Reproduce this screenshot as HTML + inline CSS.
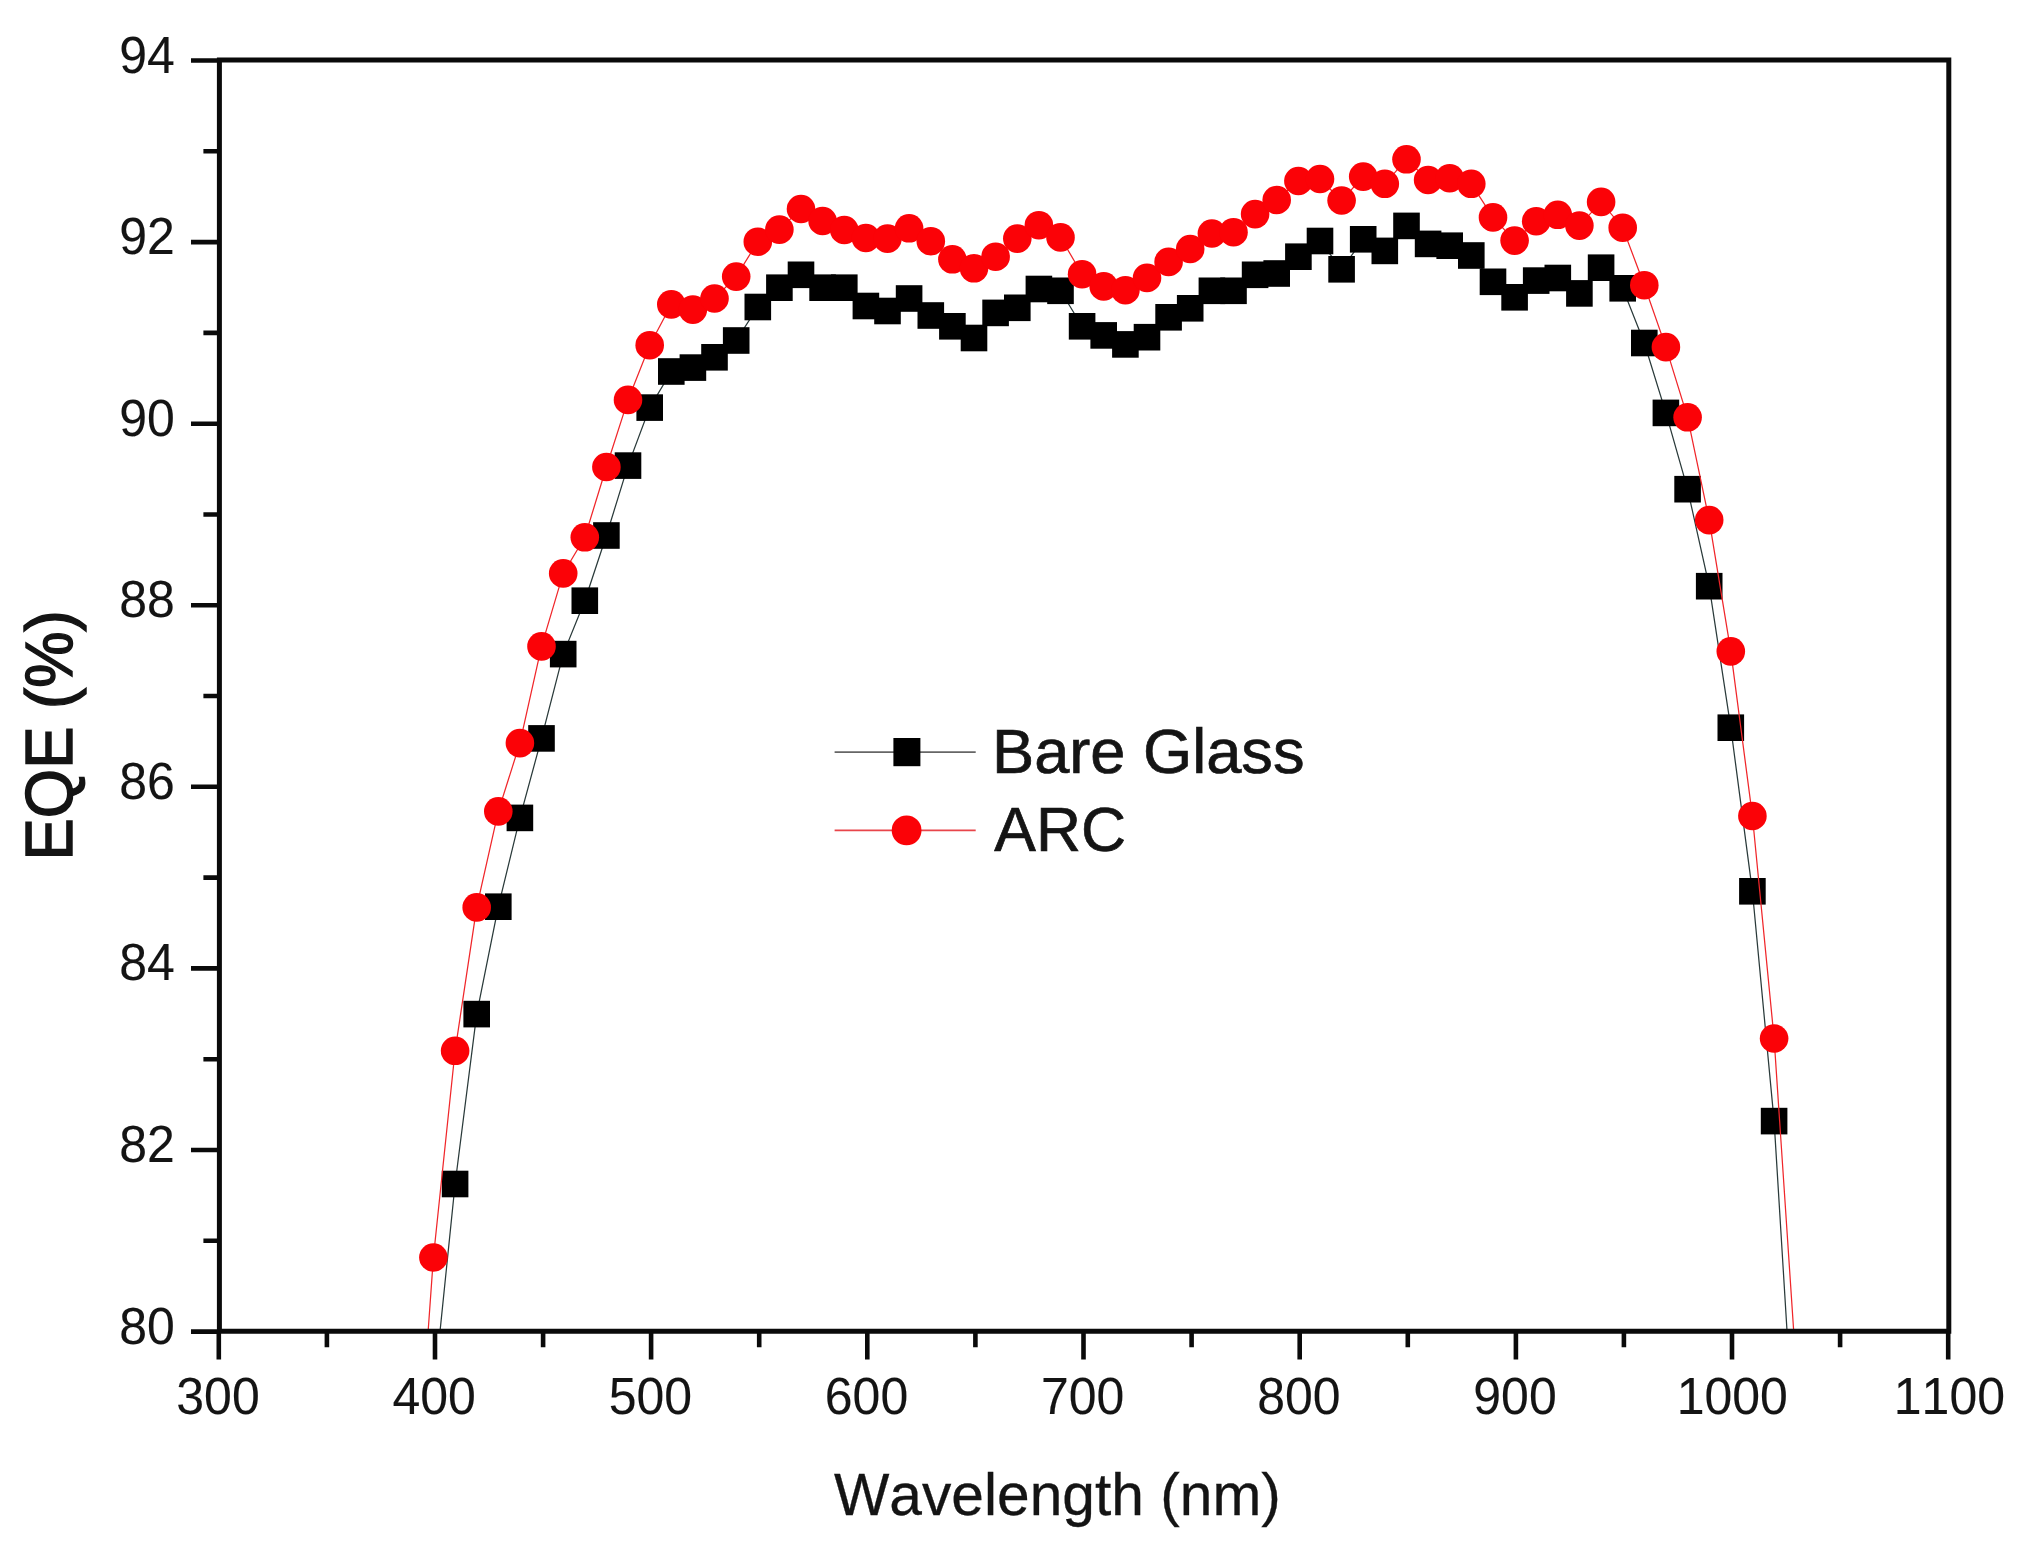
<!DOCTYPE html>
<html lang="en">
<head>
<meta charset="utf-8">
<title>EQE vs Wavelength</title>
<style>
html,body{margin:0;padding:0;background:#fff;}
body{width:2028px;height:1551px;overflow:hidden;}
svg{display:block;}
text{font-family:"Liberation Sans",Arial,Helvetica,sans-serif;fill:#141414;stroke:#141414;stroke-width:0.3px;font-kerning:none;}
.tick{font-size:50px;stroke-width:0.1px;}
.xt{font-size:58.7px;}
.yt{font-size:63.4px;stroke-width:1.4px;}
.leg{font-size:63.2px;stroke-width:0.7px;}
.leg2{font-size:62.4px;stroke-width:0.7px;}
</style>
</head>
<body>
<svg width="2028" height="1551" viewBox="0 0 2028 1551">
<rect x="0" y="0" width="2028" height="1551" fill="#ffffff"/>
<defs><clipPath id="plot"><rect x="219.4" y="60.1" width="1729.4" height="1271.1"/></clipPath></defs>
<g clip-path="url(#plot)">
<polyline points="433.4,1396.0 455.1,1184.0 476.7,1014.1 498.3,906.7 519.9,817.9 541.5,738.4 563.2,654.1 584.8,600.7 606.4,535.5 628.0,465.6 649.7,407.6 671.3,371.5 692.9,367.6 714.5,357.3 736.2,340.5 757.8,307.0 779.4,287.7 801.0,274.8 822.6,287.7 844.3,287.7 865.9,306.0 887.5,311.0 909.1,298.5 930.8,315.5 952.4,326.3 974.0,338.0 995.6,312.9 1017.3,307.8 1038.9,289.0 1060.5,290.8 1082.1,326.3 1103.7,335.4 1125.4,344.4 1147.0,337.2 1168.6,317.3 1190.2,308.3 1211.9,290.8 1233.5,290.8 1255.1,274.8 1276.7,273.5 1298.4,256.7 1320.0,241.0 1341.6,269.3 1363.2,239.3 1384.8,250.9 1406.5,225.9 1428.1,243.9 1449.7,245.7 1471.3,255.5 1493.0,281.8 1514.6,297.3 1536.2,280.6 1557.8,278.0 1579.4,293.4 1601.1,267.7 1622.7,288.3 1644.3,343.0 1665.9,412.9 1687.6,489.2 1709.2,586.2 1730.8,727.7 1752.4,891.3 1774.1,1121.1 1795.7,1472.0" fill="none" stroke="#2a3a3a" stroke-width="1.25"/>
<rect x="441.8" y="1170.7" width="26.6" height="26.6" fill="#000000"/><rect x="463.4" y="1000.8" width="26.6" height="26.6" fill="#000000"/><rect x="485.0" y="893.4" width="26.6" height="26.6" fill="#000000"/><rect x="506.6" y="804.6" width="26.6" height="26.6" fill="#000000"/><rect x="528.2" y="725.1" width="26.6" height="26.6" fill="#000000"/><rect x="549.9" y="640.8" width="26.6" height="26.6" fill="#000000"/><rect x="571.5" y="587.4" width="26.6" height="26.6" fill="#000000"/><rect x="593.1" y="522.2" width="26.6" height="26.6" fill="#000000"/><rect x="614.7" y="452.3" width="26.6" height="26.6" fill="#000000"/><rect x="636.4" y="394.3" width="26.6" height="26.6" fill="#000000"/><rect x="658.0" y="358.2" width="26.6" height="26.6" fill="#000000"/><rect x="679.6" y="354.3" width="26.6" height="26.6" fill="#000000"/><rect x="701.2" y="344.0" width="26.6" height="26.6" fill="#000000"/><rect x="722.9" y="327.2" width="26.6" height="26.6" fill="#000000"/><rect x="744.5" y="293.7" width="26.6" height="26.6" fill="#000000"/><rect x="766.1" y="274.4" width="26.6" height="26.6" fill="#000000"/><rect x="787.7" y="261.5" width="26.6" height="26.6" fill="#000000"/><rect x="809.3" y="274.4" width="26.6" height="26.6" fill="#000000"/><rect x="831.0" y="274.4" width="26.6" height="26.6" fill="#000000"/><rect x="852.6" y="292.7" width="26.6" height="26.6" fill="#000000"/><rect x="874.2" y="297.7" width="26.6" height="26.6" fill="#000000"/><rect x="895.8" y="285.2" width="26.6" height="26.6" fill="#000000"/><rect x="917.5" y="302.2" width="26.6" height="26.6" fill="#000000"/><rect x="939.1" y="313.0" width="26.6" height="26.6" fill="#000000"/><rect x="960.7" y="324.7" width="26.6" height="26.6" fill="#000000"/><rect x="982.3" y="299.6" width="26.6" height="26.6" fill="#000000"/><rect x="1004.0" y="294.5" width="26.6" height="26.6" fill="#000000"/><rect x="1025.6" y="275.7" width="26.6" height="26.6" fill="#000000"/><rect x="1047.2" y="277.5" width="26.6" height="26.6" fill="#000000"/><rect x="1068.8" y="313.0" width="26.6" height="26.6" fill="#000000"/><rect x="1090.4" y="322.1" width="26.6" height="26.6" fill="#000000"/><rect x="1112.1" y="331.1" width="26.6" height="26.6" fill="#000000"/><rect x="1133.7" y="323.9" width="26.6" height="26.6" fill="#000000"/><rect x="1155.3" y="304.0" width="26.6" height="26.6" fill="#000000"/><rect x="1176.9" y="295.0" width="26.6" height="26.6" fill="#000000"/><rect x="1198.6" y="277.5" width="26.6" height="26.6" fill="#000000"/><rect x="1220.2" y="277.5" width="26.6" height="26.6" fill="#000000"/><rect x="1241.8" y="261.5" width="26.6" height="26.6" fill="#000000"/><rect x="1263.4" y="260.2" width="26.6" height="26.6" fill="#000000"/><rect x="1285.1" y="243.4" width="26.6" height="26.6" fill="#000000"/><rect x="1306.7" y="227.7" width="26.6" height="26.6" fill="#000000"/><rect x="1328.3" y="256.0" width="26.6" height="26.6" fill="#000000"/><rect x="1349.9" y="226.0" width="26.6" height="26.6" fill="#000000"/><rect x="1371.5" y="237.6" width="26.6" height="26.6" fill="#000000"/><rect x="1393.2" y="212.6" width="26.6" height="26.6" fill="#000000"/><rect x="1414.8" y="230.6" width="26.6" height="26.6" fill="#000000"/><rect x="1436.4" y="232.4" width="26.6" height="26.6" fill="#000000"/><rect x="1458.0" y="242.2" width="26.6" height="26.6" fill="#000000"/><rect x="1479.7" y="268.5" width="26.6" height="26.6" fill="#000000"/><rect x="1501.3" y="284.0" width="26.6" height="26.6" fill="#000000"/><rect x="1522.9" y="267.3" width="26.6" height="26.6" fill="#000000"/><rect x="1544.5" y="264.7" width="26.6" height="26.6" fill="#000000"/><rect x="1566.1" y="280.1" width="26.6" height="26.6" fill="#000000"/><rect x="1587.8" y="254.4" width="26.6" height="26.6" fill="#000000"/><rect x="1609.4" y="275.0" width="26.6" height="26.6" fill="#000000"/><rect x="1631.0" y="329.7" width="26.6" height="26.6" fill="#000000"/><rect x="1652.6" y="399.6" width="26.6" height="26.6" fill="#000000"/><rect x="1674.3" y="475.9" width="26.6" height="26.6" fill="#000000"/><rect x="1695.9" y="572.9" width="26.6" height="26.6" fill="#000000"/><rect x="1717.5" y="714.4" width="26.6" height="26.6" fill="#000000"/><rect x="1739.1" y="878.0" width="26.6" height="26.6" fill="#000000"/><rect x="1760.8" y="1107.8" width="26.6" height="26.6" fill="#000000"/>
</g>
<g clip-path="url(#plot)">
<polyline points="411.8,1560.0 433.4,1257.5 455.1,1050.8 476.7,907.4 498.3,811.4 519.9,743.1 541.5,646.4 563.2,573.4 584.8,537.3 606.4,467.0 628.0,399.9 649.7,345.2 671.3,304.4 692.9,309.6 714.5,298.5 736.2,276.6 757.8,241.7 779.4,229.6 801.0,209.0 822.6,221.0 844.3,230.0 865.9,238.0 887.5,238.6 909.1,228.3 930.8,241.2 952.4,259.3 974.0,268.3 995.6,256.7 1017.3,238.6 1038.9,225.2 1060.5,237.4 1082.1,274.2 1103.7,286.4 1125.4,290.2 1147.0,277.9 1168.6,261.9 1190.2,249.0 1211.9,233.5 1233.5,232.2 1255.1,214.1 1276.7,200.0 1298.4,181.0 1320.0,179.0 1341.6,200.5 1363.2,176.6 1384.8,183.8 1406.5,159.3 1428.1,180.0 1449.7,178.2 1471.3,183.8 1493.0,217.4 1514.6,240.6 1536.2,221.2 1557.8,214.8 1579.4,225.6 1601.1,201.9 1622.7,227.7 1644.3,285.2 1665.9,347.1 1687.6,417.3 1709.2,520.1 1730.8,651.4 1752.4,816.0 1774.1,1038.5 1795.7,1361.0" fill="none" stroke="#f0262a" stroke-width="1.25"/>
<circle cx="433.4" cy="1257.5" r="14.3" fill="#fb0207"/><circle cx="455.1" cy="1050.8" r="14.3" fill="#fb0207"/><circle cx="476.7" cy="907.4" r="14.3" fill="#fb0207"/><circle cx="498.3" cy="811.4" r="14.3" fill="#fb0207"/><circle cx="519.9" cy="743.1" r="14.3" fill="#fb0207"/><circle cx="541.5" cy="646.4" r="14.3" fill="#fb0207"/><circle cx="563.2" cy="573.4" r="14.3" fill="#fb0207"/><circle cx="584.8" cy="537.3" r="14.3" fill="#fb0207"/><circle cx="606.4" cy="467.0" r="14.3" fill="#fb0207"/><circle cx="628.0" cy="399.9" r="14.3" fill="#fb0207"/><circle cx="649.7" cy="345.2" r="14.3" fill="#fb0207"/><circle cx="671.3" cy="304.4" r="14.3" fill="#fb0207"/><circle cx="692.9" cy="309.6" r="14.3" fill="#fb0207"/><circle cx="714.5" cy="298.5" r="14.3" fill="#fb0207"/><circle cx="736.2" cy="276.6" r="14.3" fill="#fb0207"/><circle cx="757.8" cy="241.7" r="14.3" fill="#fb0207"/><circle cx="779.4" cy="229.6" r="14.3" fill="#fb0207"/><circle cx="801.0" cy="209.0" r="14.3" fill="#fb0207"/><circle cx="822.6" cy="221.0" r="14.3" fill="#fb0207"/><circle cx="844.3" cy="230.0" r="14.3" fill="#fb0207"/><circle cx="865.9" cy="238.0" r="14.3" fill="#fb0207"/><circle cx="887.5" cy="238.6" r="14.3" fill="#fb0207"/><circle cx="909.1" cy="228.3" r="14.3" fill="#fb0207"/><circle cx="930.8" cy="241.2" r="14.3" fill="#fb0207"/><circle cx="952.4" cy="259.3" r="14.3" fill="#fb0207"/><circle cx="974.0" cy="268.3" r="14.3" fill="#fb0207"/><circle cx="995.6" cy="256.7" r="14.3" fill="#fb0207"/><circle cx="1017.3" cy="238.6" r="14.3" fill="#fb0207"/><circle cx="1038.9" cy="225.2" r="14.3" fill="#fb0207"/><circle cx="1060.5" cy="237.4" r="14.3" fill="#fb0207"/><circle cx="1082.1" cy="274.2" r="14.3" fill="#fb0207"/><circle cx="1103.7" cy="286.4" r="14.3" fill="#fb0207"/><circle cx="1125.4" cy="290.2" r="14.3" fill="#fb0207"/><circle cx="1147.0" cy="277.9" r="14.3" fill="#fb0207"/><circle cx="1168.6" cy="261.9" r="14.3" fill="#fb0207"/><circle cx="1190.2" cy="249.0" r="14.3" fill="#fb0207"/><circle cx="1211.9" cy="233.5" r="14.3" fill="#fb0207"/><circle cx="1233.5" cy="232.2" r="14.3" fill="#fb0207"/><circle cx="1255.1" cy="214.1" r="14.3" fill="#fb0207"/><circle cx="1276.7" cy="200.0" r="14.3" fill="#fb0207"/><circle cx="1298.4" cy="181.0" r="14.3" fill="#fb0207"/><circle cx="1320.0" cy="179.0" r="14.3" fill="#fb0207"/><circle cx="1341.6" cy="200.5" r="14.3" fill="#fb0207"/><circle cx="1363.2" cy="176.6" r="14.3" fill="#fb0207"/><circle cx="1384.8" cy="183.8" r="14.3" fill="#fb0207"/><circle cx="1406.5" cy="159.3" r="14.3" fill="#fb0207"/><circle cx="1428.1" cy="180.0" r="14.3" fill="#fb0207"/><circle cx="1449.7" cy="178.2" r="14.3" fill="#fb0207"/><circle cx="1471.3" cy="183.8" r="14.3" fill="#fb0207"/><circle cx="1493.0" cy="217.4" r="14.3" fill="#fb0207"/><circle cx="1514.6" cy="240.6" r="14.3" fill="#fb0207"/><circle cx="1536.2" cy="221.2" r="14.3" fill="#fb0207"/><circle cx="1557.8" cy="214.8" r="14.3" fill="#fb0207"/><circle cx="1579.4" cy="225.6" r="14.3" fill="#fb0207"/><circle cx="1601.1" cy="201.9" r="14.3" fill="#fb0207"/><circle cx="1622.7" cy="227.7" r="14.3" fill="#fb0207"/><circle cx="1644.3" cy="285.2" r="14.3" fill="#fb0207"/><circle cx="1665.9" cy="347.1" r="14.3" fill="#fb0207"/><circle cx="1687.6" cy="417.3" r="14.3" fill="#fb0207"/><circle cx="1709.2" cy="520.1" r="14.3" fill="#fb0207"/><circle cx="1730.8" cy="651.4" r="14.3" fill="#fb0207"/><circle cx="1752.4" cy="816.0" r="14.3" fill="#fb0207"/><circle cx="1774.1" cy="1038.5" r="14.3" fill="#fb0207"/>
</g>
<g stroke="#0a0a0a" stroke-width="5" fill="none" stroke-linecap="butt">
<path d="M219.4 60.1 H1948.8 V1331.2 H219.4 Z"/>
<path d="M219.4 1331.6 h-28.4 M219.4 1240.8 h-16.0 M219.4 1150.0 h-28.4 M219.4 1059.2 h-16.0 M219.4 968.4 h-28.4 M219.4 877.6 h-16.0 M219.4 786.8 h-28.4 M219.4 696.0 h-16.0 M219.4 605.3 h-28.4 M219.4 514.5 h-16.0 M219.4 423.7 h-28.4 M219.4 332.9 h-16.0 M219.4 242.1 h-28.4 M219.4 151.3 h-16.0 M219.4 60.5 h-28.4 M218.8 1331.2 v28.4 M326.9 1331.2 v16.0 M435.0 1331.2 v28.4 M543.1 1331.2 v16.0 M651.1 1331.2 v28.4 M759.2 1331.2 v16.0 M867.3 1331.2 v28.4 M975.4 1331.2 v16.0 M1083.5 1331.2 v28.4 M1191.6 1331.2 v16.0 M1299.7 1331.2 v28.4 M1407.8 1331.2 v16.0 M1515.9 1331.2 v28.4 M1623.9 1331.2 v16.0 M1732.0 1331.2 v28.4 M1840.1 1331.2 v16.0 M1948.2 1331.2 v28.4 " stroke-width="4.6"/>
</g>
<text class="tick" transform="translate(174.8,1343.6) scale(1,1.035)" text-anchor="end">80</text>
<text class="tick" transform="translate(174.8,1162.0) scale(1,1.035)" text-anchor="end">82</text>
<text class="tick" transform="translate(174.8,980.4) scale(1,1.035)" text-anchor="end">84</text>
<text class="tick" transform="translate(174.8,798.8) scale(1,1.035)" text-anchor="end">86</text>
<text class="tick" transform="translate(174.8,617.3) scale(1,1.035)" text-anchor="end">88</text>
<text class="tick" transform="translate(174.8,435.7) scale(1,1.035)" text-anchor="end">90</text>
<text class="tick" transform="translate(174.8,254.1) scale(1,1.035)" text-anchor="end">92</text>
<text class="tick" transform="translate(174.8,72.5) scale(1,1.035)" text-anchor="end">94</text>
<text class="tick" transform="translate(218.0,1413.8) scale(1,1.035)" text-anchor="middle">300</text>
<text class="tick" transform="translate(434.2,1413.8) scale(1,1.035)" text-anchor="middle">400</text>
<text class="tick" transform="translate(650.4,1413.8) scale(1,1.035)" text-anchor="middle">500</text>
<text class="tick" transform="translate(866.5,1413.8) scale(1,1.035)" text-anchor="middle">600</text>
<text class="tick" transform="translate(1082.7,1413.8) scale(1,1.035)" text-anchor="middle">700</text>
<text class="tick" transform="translate(1298.9,1413.8) scale(1,1.035)" text-anchor="middle">800</text>
<text class="tick" transform="translate(1515.0,1413.8) scale(1,1.035)" text-anchor="middle">900</text>
<text class="tick" transform="translate(1732.3,1413.8) scale(1,1.035)" text-anchor="middle">1000</text>
<text class="tick" transform="translate(1949.4,1413.8) scale(1,1.035)" text-anchor="middle">1100</text>
<text class="xt" transform="translate(1057.4,1514.6)" text-anchor="middle">Wavelength (nm)</text>
<text class="yt" transform="translate(72,735.4) rotate(-90) scale(1,1.055)" text-anchor="middle">EQE (%)</text>
<line x1="834.6" y1="752.1" x2="975.7" y2="752.1" stroke="#666" stroke-width="1.9"/>
<rect x="893.4" y="738" width="27" height="28.2" fill="#000"/>
<line x1="834.6" y1="830.3" x2="975.7" y2="830.3" stroke="#e8454a" stroke-width="1.7"/>
<circle cx="906.6" cy="830.4" r="14.9" fill="#fb0207"/>
<text class="leg" transform="translate(992,773.2) scale(1,1.01)">Bare Glass</text>
<text class="leg2" transform="translate(994.3,851.1) scale(1,1.01)">ARC</text>
</svg>
</body>
</html>
